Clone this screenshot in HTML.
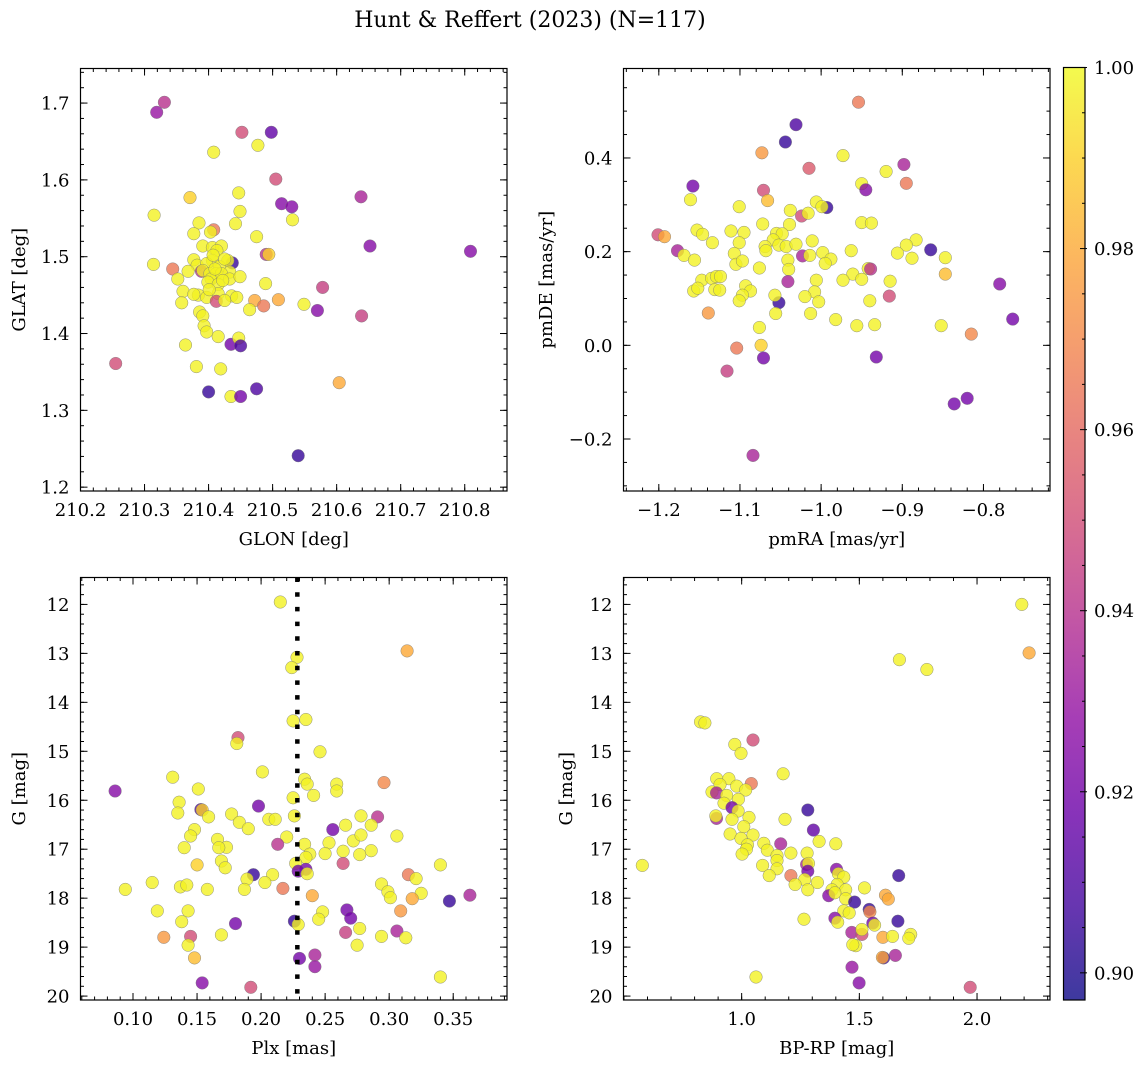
<!DOCTYPE html>
<html><head><meta charset="utf-8"><style>
html,body{margin:0;padding:0;background:#fff;}
svg{display:block;font-family:"DejaVu Serif","Liberation Serif",serif;}
</style></head><body>
<svg id="fig" width="1148" height="1067" viewBox="0 0 1148 1067" xmlns="http://www.w3.org/2000/svg">
<text x="530" y="27" font-size="22" text-anchor="middle">Hunt &amp; Reffert (2023) (N=117)</text>
</svg>
<script>
const Y=0.998;
// Panel 1: GLON / GLAT
const p1Lon=[210.319,210.331,210.452,210.498,210.477,210.408,210.505,210.447,210.371,210.638,210.514,210.530,210.315,210.449,210.531,210.442,210.385,210.377,210.408,210.403,210.475,210.652,210.809,210.391,210.406,210.420,210.413,210.490,210.494,210.314,210.344,210.377,210.437,210.430,210.382,210.406,210.397,210.417,210.368,210.389,210.391,210.402,210.412,210.433,210.404,210.420,210.433,210.449,210.352,210.399,210.415,210.360,210.489,210.578,210.415,210.384,210.397,210.436,210.444,210.358,210.412,210.425,210.472,210.486,210.509,210.464,210.549,210.570,210.639,210.386,210.391,210.393,210.397,210.415,210.435,210.447,210.450,210.364,210.255,210.381,210.419,210.604,210.400,210.475,210.435,210.450,210.540,210.407,210.425,210.410,210.422,210.401,210.377];
const p1Lat=[1.688,1.701,1.662,1.662,1.645,1.636,1.601,1.583,1.577,1.578,1.569,1.565,1.554,1.559,1.548,1.543,1.544,1.530,1.535,1.532,1.526,1.514,1.507,1.514,1.512,1.514,1.508,1.503,1.503,1.490,1.484,1.496,1.492,1.495,1.489,1.495,1.491,1.487,1.481,1.481,1.482,1.478,1.478,1.480,1.471,1.478,1.471,1.474,1.471,1.467,1.464,1.455,1.465,1.460,1.452,1.450,1.447,1.449,1.447,1.440,1.442,1.443,1.443,1.436,1.444,1.431,1.438,1.430,1.423,1.428,1.423,1.410,1.402,1.396,1.386,1.394,1.384,1.385,1.361,1.357,1.354,1.336,1.324,1.328,1.318,1.318,1.241,1.502,1.497,1.484,1.469,1.457,1.451];
const p1Prob=[0.93,0.94,0.95,0.915,Y,Y,0.95,Y,0.99,0.935,0.925,0.925,Y,Y,Y,Y,Y,Y,0.965,Y,Y,0.925,0.925,Y,Y,Y,Y,0.94,0.99,Y,0.965,Y,0.905,Y,Y,Y,Y,Y,Y,0.94,Y,Y,Y,Y,Y,Y,Y,Y,Y,Y,Y,Y,Y,0.945,Y,Y,Y,Y,Y,Y,0.95,Y,0.98,0.965,0.98,Y,Y,0.925,0.945,Y,Y,Y,Y,Y,0.92,Y,0.91,Y,0.95,Y,Y,0.98,0.905,0.91,Y,0.92,0.905,Y,Y,Y,Y,Y,Y];
// Panel 2: pmRA / pmDE
const p2Ra=[-0.954,-1.031,-1.044,-1.073,-0.973,-0.898,-1.015,-0.920,-0.895,-0.950,-0.945,-1.158,-1.071,-1.066,-1.161,-1.101,-1.006,-0.993,-0.999,-1.038,-1.024,-1.016,-0.950,-0.938,-1.072,-1.039,-1.201,-1.193,-1.153,-1.146,-1.111,-1.095,-1.134,-1.055,-1.048,-1.059,-1.052,-1.043,-1.031,-1.101,-1.011,-1.069,-1.068,-0.883,-0.895,-0.906,-0.865,-1.177,-1.169,-1.156,-1.107,-1.023,-1.014,-0.998,-0.963,-0.888,-0.847,-1.041,-1.105,-1.097,-0.988,-0.995,-1.040,-1.076,-0.942,-0.939,-0.847,-0.961,-1.147,-1.135,-1.129,-1.124,-1.041,-1.006,-0.973,-0.950,-0.915,-0.780,-1.157,-1.152,-1.131,-1.125,-1.093,-1.087,-1.097,-1.101,-1.008,-1.020,-0.916,-0.940,-1.003,-1.052,-1.057,-1.056,-1.013,-1.139,-0.982,-0.956,-0.934,-0.852,-0.764,-0.815,-1.076,-1.074,-1.104,-1.071,-0.932,-1.116,-0.836,-0.820,-1.084];
const p2De=[0.519,0.471,0.434,0.411,0.405,0.386,0.378,0.371,0.346,0.345,0.332,0.340,0.331,0.309,0.311,0.296,0.306,0.294,0.296,0.288,0.276,0.282,0.262,0.261,0.259,0.258,0.236,0.232,0.246,0.237,0.244,0.241,0.219,0.239,0.238,0.225,0.214,0.211,0.216,0.219,0.223,0.211,0.202,0.225,0.214,0.197,0.204,0.202,0.192,0.182,0.196,0.191,0.192,0.198,0.202,0.186,0.187,0.182,0.173,0.180,0.184,0.175,0.162,0.165,0.164,0.163,0.152,0.152,0.139,0.143,0.147,0.147,0.136,0.139,0.139,0.141,0.137,0.131,0.116,0.122,0.119,0.118,0.127,0.116,0.107,0.095,0.114,0.104,0.105,0.095,0.093,0.091,0.107,0.068,0.068,0.069,0.055,0.042,0.044,0.042,0.056,0.024,0.038,0.000,-0.006,-0.027,-0.025,-0.055,-0.125,-0.113,-0.235];
const p2Prob=[0.965,0.91,0.905,0.975,Y,0.935,0.955,Y,0.965,Y,0.925,0.92,0.95,0.985,Y,Y,Y,0.905,Y,Y,0.95,Y,Y,Y,Y,Y,0.95,0.98,Y,Y,Y,Y,Y,Y,Y,Y,Y,Y,Y,Y,Y,Y,Y,Y,Y,Y,0.905,0.935,Y,Y,Y,0.935,Y,Y,Y,Y,Y,Y,Y,Y,Y,Y,Y,Y,Y,0.94,0.985,Y,Y,Y,Y,Y,0.935,Y,Y,Y,Y,0.925,Y,Y,Y,Y,Y,Y,Y,Y,Y,Y,0.95,Y,Y,0.905,Y,Y,Y,0.975,Y,Y,Y,Y,0.92,0.97,Y,0.99,0.965,0.92,0.92,0.945,0.92,0.92,0.935];
// Panel 3: Plx / G
const p3Plx=[0.215,0.314,0.228,0.224,0.225,0.235,0.182,0.181,0.246,0.201,0.131,0.234,0.236,0.296,0.259,0.259,0.086,0.151,0.241,0.225,0.136,0.135,0.153,0.154,0.198,0.159,0.177,0.183,0.206,0.211,0.226,0.190,0.291,0.278,0.266,0.286,0.256,0.148,0.145,0.220,0.306,0.166,0.272,0.278,0.213,0.234,0.253,0.140,0.173,0.167,0.238,0.250,0.264,0.286,0.277,0.235,0.169,0.264,0.227,0.150,0.172,0.340,0.235,0.229,0.236,0.194,0.209,0.189,0.315,0.321,0.115,0.203,0.294,0.137,0.142,0.094,0.158,0.187,0.217,0.299,0.363,0.325,0.240,0.301,0.318,0.347,0.309,0.119,0.143,0.267,0.248,0.270,0.245,0.138,0.180,0.226,0.229,0.277,0.169,0.266,0.306,0.124,0.145,0.294,0.313,0.143,0.275,0.148,0.230,0.242,0.242,0.340,0.154,0.192];
const p3G=[11.95,12.95,13.08,13.29,14.38,14.35,14.72,14.84,15.01,15.42,15.53,15.57,15.67,15.64,15.67,15.81,15.81,15.77,15.90,15.95,16.04,16.26,16.19,16.20,16.12,16.34,16.28,16.45,16.39,16.39,16.32,16.58,16.34,16.32,16.51,16.51,16.60,16.60,16.73,16.75,16.73,16.80,16.83,16.71,16.90,16.90,16.87,16.97,16.96,16.97,17.10,17.09,17.04,17.03,17.11,17.17,17.24,17.29,17.29,17.32,17.38,17.32,17.41,17.45,17.50,17.52,17.52,17.61,17.52,17.60,17.68,17.68,17.71,17.77,17.73,17.82,17.82,17.82,17.80,17.87,17.94,17.90,17.95,17.99,18.01,18.06,18.26,18.26,18.26,18.24,18.28,18.41,18.43,18.48,18.52,18.47,18.54,18.62,18.75,18.70,18.67,18.80,18.78,18.78,18.81,18.96,18.96,19.22,19.23,19.16,19.40,19.61,19.73,19.82];
const p3Prob=[Y,0.98,Y,Y,Y,Y,0.95,Y,Y,Y,Y,Y,Y,0.97,Y,Y,0.925,Y,Y,Y,Y,Y,0.91,0.99,0.92,Y,Y,Y,Y,Y,Y,Y,0.94,Y,Y,Y,0.92,Y,Y,Y,Y,Y,Y,Y,0.94,Y,Y,Y,Y,Y,Y,Y,Y,Y,Y,Y,Y,0.95,Y,0.99,Y,Y,0.92,0.92,Y,0.905,Y,Y,0.965,Y,Y,Y,Y,Y,Y,Y,Y,Y,0.965,Y,0.935,Y,0.98,Y,0.98,0.905,0.975,Y,Y,0.92,Y,0.92,Y,Y,0.92,0.905,Y,Y,Y,0.945,0.935,0.975,0.95,Y,Y,Y,Y,0.985,0.92,0.935,0.93,Y,0.925,0.95];
const dividingPlx=[0.2283];
// Panel 4: BP-RP / G
const p4Col=[2.190,2.221,1.670,1.787,0.825,0.844,1.048,0.971,0.997,1.176,0.894,0.946,0.979,1.041,0.908,1.017,0.874,0.893,0.936,0.986,0.925,0.959,1.281,0.985,0.893,0.890,1.031,1.184,0.959,1.009,1.305,0.951,1.048,0.997,1.025,1.094,1.166,1.329,1.400,1.109,1.020,1.002,1.209,1.278,1.150,1.150,1.089,0.578,1.276,1.284,1.150,1.281,1.403,1.411,1.667,1.209,1.117,1.434,1.268,1.322,1.227,1.406,1.281,1.384,1.442,1.522,1.370,1.396,1.442,1.611,1.623,1.480,1.542,1.545,1.434,1.457,1.265,1.396,1.408,1.557,1.565,1.664,1.468,1.511,1.511,1.600,1.641,1.718,1.710,1.485,1.472,1.653,1.603,1.598,1.469,1.499,1.061,1.971];
const p4G=[12.00,12.99,13.13,13.33,14.40,14.42,14.77,14.86,15.04,15.46,15.56,15.56,15.71,15.66,15.68,15.79,15.83,15.85,15.90,15.98,16.06,16.15,16.20,16.22,16.37,16.32,16.35,16.39,16.39,16.54,16.61,16.69,16.71,16.78,16.91,16.88,16.89,16.84,16.89,17.02,17.00,17.10,17.08,17.08,17.13,17.23,17.33,17.33,17.31,17.29,17.40,17.45,17.41,17.50,17.54,17.54,17.54,17.57,17.62,17.68,17.72,17.72,17.83,17.83,17.83,17.79,17.95,17.89,18.01,17.94,18.02,18.08,18.23,18.28,18.26,18.30,18.43,18.41,18.49,18.51,18.55,18.47,18.70,18.74,18.64,18.80,18.78,18.74,18.82,18.97,18.95,19.17,19.22,19.21,19.41,19.73,19.61,19.82];
const p4Prob=[Y,0.98,Y,Y,Y,Y,0.95,Y,Y,Y,Y,Y,Y,0.965,Y,Y,Y,0.935,Y,Y,Y,0.92,0.905,Y,0.935,Y,Y,Y,Y,Y,0.915,Y,Y,Y,Y,Y,0.935,Y,Y,Y,Y,Y,Y,Y,Y,Y,Y,Y,0.935,Y,Y,0.92,0.925,Y,0.905,0.965,Y,Y,Y,Y,Y,Y,Y,Y,Y,Y,0.925,Y,Y,0.98,0.98,0.905,0.905,0.97,Y,Y,Y,0.925,Y,0.92,Y,0.905,0.935,0.95,Y,0.98,Y,Y,Y,Y,Y,0.935,0.91,0.98,0.93,0.925,Y,0.95];
const cbTicks=[0.90,0.92,0.94,0.96,0.98,1.00];

const VMIN=0.897,VMAX=1.0;
const stops=[[13,8,135],[65,4,157],[106,0,168],[143,13,164],[177,42,144],[204,71,120],[225,100,98],[242,132,75],[252,166,54],[252,206,37],[240,249,33]];
function plasma(t){t=Math.max(0,Math.min(1,t));const f=t*10,i=Math.min(9,Math.floor(f)),u=f-i;const a=stops[i],b=stops[i+1];return `rgb(${Math.round(a[0]+(b[0]-a[0])*u)},${Math.round(a[1]+(b[1]-a[1])*u)},${Math.round(a[2]+(b[2]-a[2])*u)})`;}
const NS="http://www.w3.org/2000/svg";
const svg=document.getElementById('fig');
function el(tag,attrs,parent){const e=document.createElementNS(NS,tag);for(const k in attrs)e.setAttribute(k,attrs[k]);(parent||svg).appendChild(e);return e;}
function fmt(v,d){const s=Math.abs(v).toFixed(d);return (v<-1e-9?'\u2212':'')+s;}
const TICKFS=18, LABFS=18;

function panel(cfg){
  const g=el('g',{});
  
  
  const {x0,y0,x1,y1}=cfg.box;
  const sx=v=>x0+(v-cfg.xl[0])/(cfg.xl[1]-cfg.xl[0])*(x1-x0);
  const sy=v=>y1-(v-cfg.yl[0])/(cfg.yl[1]-cfg.yl[0])*(y1-y0);
  const clip='clip-'+cfg.name;
  const cp=el('clipPath',{id:clip},g);el('rect',{x:x0,y:y0,width:x1-x0,height:y1-y0},cp);
  const pg=el('g',{'clip-path':`url(#${clip})`},g);
  
  
  for(let i=0;i<cfg.xs.length;i++){
    const c=el('circle',{cx:sx(cfg.xs[i]).toFixed(1),cy:sy(cfg.ys[i]).toFixed(1),r:6.3,fill:plasma((cfg.ps[i]-VMIN)/(VMAX-VMIN)),'fill-opacity':0.8,stroke:'#777','stroke-width':0.5,'stroke-opacity':0.8},pg);
    
    
  }
  if(cfg.vline){for(const v of cfg.vline){const l=el('line',{x1:sx(v),x2:sx(v),y1:y0,y2:y1,stroke:'#000','stroke-width':4.5,'stroke-dasharray':'4.5 10.2'},pg);
    
    }}
  const tg=el('g',{stroke:'#000','stroke-width':1},g);
  const inX=v=>v>=Math.min(...cfg.xl)-1e-9&&v<=Math.max(...cfg.xl)+1e-9;
  const inY=v=>v>=Math.min(...cfg.yl)-1e-9&&v<=Math.max(...cfg.yl)+1e-9;
  function ticksX(start,step,len){for(let v=start;v<=Math.max(...cfg.xl)+1e-9;v+=step){if(!inX(v))continue;const X=sx(v);el('line',{x1:X,x2:X,y1:y1,y2:y1-len},tg);el('line',{x1:X,x2:X,y1:y0,y2:y0+len},tg);}}
  function ticksY(start,step,len){for(let v=start;v<=Math.max(...cfg.yl)+1e-9;v+=step){if(!inY(v))continue;const Yp=sy(v);el('line',{x1:x0,x2:x0+len,y1:Yp,y2:Yp},tg);el('line',{x1:x1,x2:x1-len,y1:Yp,y2:Yp},tg);}}
  ticksX(cfg.xminor[0],cfg.xminor[1],3.5);ticksY(cfg.yminor[0],cfg.yminor[1],3.5);
  ticksX(cfg.xmajor[0],cfg.xmajor[1],7);ticksY(cfg.ymajor[0],cfg.ymajor[1],7);
  for(let v=cfg.xmajor[0];v<=Math.max(...cfg.xl)+1e-9;v+=cfg.xmajor[1]){if(!inX(v))continue;
    const t=el('text',{x:sx(v),y:y1+25,'font-size':TICKFS,'text-anchor':'middle'},g);t.textContent=fmt(v,cfg.xd);
    
    }
  for(let v=cfg.ymajor[0];v<=Math.max(...cfg.yl)+1e-9;v+=cfg.ymajor[1]){if(!inY(v))continue;
    const t=el('text',{x:x0-11,y:sy(v)+6.5,'font-size':TICKFS,'text-anchor':'end'},g);t.textContent=fmt(v,cfg.yd);
    
    }
  el('rect',{x:x0,y:y0,width:x1-x0,height:y1-y0,fill:'none',stroke:'#000','stroke-width':1.2},g);
  const xt=el('text',{x:(x0+x1)/2,y:y1+54,'font-size':LABFS,'text-anchor':'middle'},g);xt.textContent=cfg.xlabel;
  
  
  const yt=el('text',{x:0,y:0,'font-size':LABFS,'text-anchor':'middle',transform:`translate(${cfg.ylx},${(y0+y1)/2}) rotate(-90)`},g);yt.textContent=cfg.ylabel;
  
  
}

panel({name:'panel-glon-glat',box:{x0:80.5,y0:68.5,x1:507,y1:491},xl:[210.2,210.866],yl:[1.195,1.745],xs:p1Lon,ys:p1Lat,ps:p1Prob,
  xmajor:[210.2,0.1],xminor:[210.2,0.02],ymajor:[1.2,0.1],yminor:[1.2,0.02],xd:1,yd:1,xlabel:'GLON [deg]',ylabel:'GLAT [deg]',ylx:25});
panel({name:'panel-pmra-pmde',box:{x0:623.5,y0:68.5,x1:1050,y1:491},xl:[-1.2435,-0.718],yl:[-0.311,0.591],xs:p2Ra,ys:p2De,ps:p2Prob,
  xmajor:[-1.2,0.1],xminor:[-1.24,0.02],ymajor:[-0.2,0.2],yminor:[-0.3,0.05],xd:1,yd:1,xlabel:'pmRA [mas/yr]',ylabel:'pmDE [mas/yr]',ylx:552});
panel({name:'panel-plx-g',box:{x0:80.5,y0:577.5,x1:507,y1:1000},xl:[0.059,0.392],yl:[20.08,11.45],xs:p3Plx,ys:p3G,ps:p3Prob,vline:dividingPlx,
  xmajor:[0.10,0.05],xminor:[0.06,0.01],ymajor:[12,1],yminor:[11.6,0.2],xd:2,yd:0,xlabel:'Plx [mas]',ylabel:'G [mag]',ylx:25});
panel({name:'panel-bprp-g',box:{x0:623.5,y0:577.5,x1:1050,y1:1000},xl:[0.498,2.31],yl:[20.08,11.45],xs:p4Col,ys:p4G,ps:p4Prob,
  xmajor:[1.0,0.5],xminor:[0.5,0.1],ymajor:[12,1],yminor:[11.6,0.2],xd:1,yd:0,xlabel:'BP-RP [mag]',ylabel:'G [mag]',ylx:572});

// colorbar
(function(){
  const cx0=1063.5,cx1=1085,cy0=67.5,cy1=1000;
  const g=el('g',{});
  
  
  const defs=el('defs',{},g);
  const lg=el('linearGradient',{id:'cbgrad',x1:0,y1:1,x2:0,y2:0},defs);
  for(let i=0;i<=20;i++){el('stop',{offset:(i/20),'stop-color':plasma(i/20),'stop-opacity':0.8},lg);}
  el('rect',{x:cx0,y:cy0,width:cx1-cx0,height:cy1-cy0,fill:'url(#cbgrad)'},g);
  const sy=v=>cy1-(v-VMIN)/(VMAX-VMIN)*(cy1-cy0);
  for(let v=0.9;v<=1.0001;v+=0.005){const Yp=sy(v);const maj=Math.abs(Math.round(v*100)/100-v)<1e-6&&Math.round(v*100)%2===0;
    el('line',{x1:cx1-(maj?5:3),x2:cx1+(maj?2:0),y1:Yp,y2:Yp,stroke:'#000','stroke-width':1},g);}
  for(const v of cbTicks){const t=el('text',{x:cx1+9,y:sy(v)+6.5,'font-size':TICKFS},g);t.textContent=v.toFixed(2);
    
    }
  el('rect',{x:cx0,y:cy0,width:cx1-cx0,height:cy1-cy0,fill:'none',stroke:'#000','stroke-width':1.2},g);
})();
</script>
</body></html>
